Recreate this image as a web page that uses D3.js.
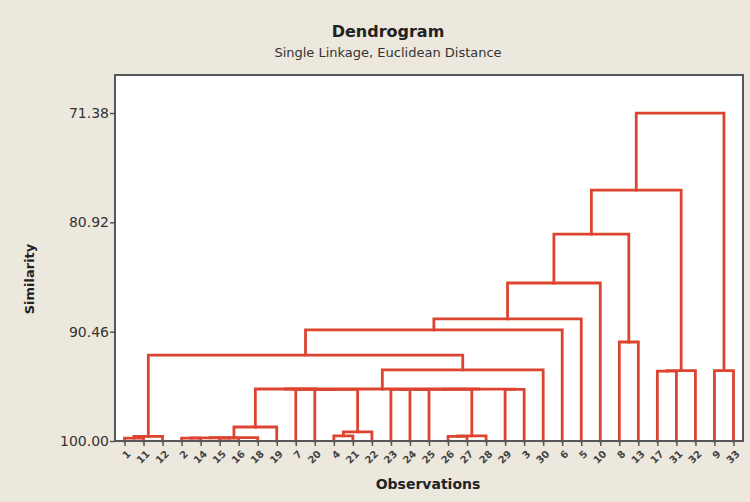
<!DOCTYPE html>
<html>
<head>
<meta charset="utf-8">
<script src="https://cdn.jsdelivr.net/npm/d3@7"></script>
<style>
  html, body { margin: 0; padding: 0; background: #ECE8DE; }
  svg { display: block; }
</style>
</head>
<body>
<svg id="chart" width="750" height="502"></svg>
<script>
// Leaf order along the x axis (observation numbers)
const observations = [1, 11, 12, 2, 14, 15, 16, 18, 19, 7, 20, 4, 21, 22, 23, 24, 25,
  26, 27, 28, 29, 3, 30, 6, 5, 10, 8, 13, 17, 31, 32, 9, 33];

// Amalgamation steps: positive = observation number, negative = -(earlier step number)
const mergeLeft  = [2, 15, 1, -1, -4, -3, 4, -7, 26, -9, -5, 20, 7, -11, 23, -15, -16, 29, -17, -14,
  -20, -6, -22, -23, -24, 8, -25, 17, -28, 9, -27, -31];
const mergeRight = [14, 16, 11, -2, 18, 12, 21, 22, 27, 28, 19, -8, -12, -13, 24, 25, -10, 3, -18, -19,
  30, -21, 6, 5, 10, 13, -26, 31, 32, 33, -29, -30];
const mergeSimilarity = [99.75, 99.75, 99.75, 99.72, 99.70, 99.60, 99.56, 99.20, 99.60, 99.55, 98.78,
  95.50, 95.50, 95.46, 95.50, 95.50, 95.50, 95.50, 95.48, 95.46,
  93.80, 92.50, 90.31, 89.35, 86.21, 91.36, 81.94, 93.90, 93.85, 93.85, 78.10, 71.38];

const yTicks = [100.00, 90.46, 80.92, 71.38];

const title = "Dendrogram";
const subtitle = "Single Linkage, Euclidean Distance";
const xTitle = "Observations";
const yTitle = "Similarity";

const svg = d3.select("#chart");
const plot = { left: 115, top: 75, right: 743, bottom: 441 };

const x = d3.scalePoint()
  .domain(observations)
  .range([plot.left, plot.right])
  .padding(0.5);

const y = d3.scaleLinear()
  .domain([100, 68.06])
  .range([plot.bottom, plot.top]);

// plot background
svg.append("rect")
  .attr("x", plot.left).attr("y", plot.top)
  .attr("width", plot.right - plot.left).attr("height", plot.bottom - plot.top)
  .attr("fill", "#ffffff");

// compute node positions
const nodes = [];
function pos(ref) {
  if (ref > 0) return { x: x(ref), y: y(100) };
  return nodes[-ref - 1];
}
const links = [];
mergeLeft.forEach((a, i) => {
  const A = pos(a), B = pos(mergeRight[i]);
  const ny = y(mergeSimilarity[i]);
  const nx = (A.x + B.x) / 2;
  nodes.push({ x: nx, y: ny });
  links.push({ A, B, ny });
});

svg.append("g")
  .selectAll("path")
  .data(links)
  .join("path")
  .attr("d", d => `M${d.A.x},${d.A.y}V${d.ny}H${d.B.x}V${d.B.y}`)
  .attr("fill", "none")
  .attr("stroke", "#DC4430")
  .attr("stroke-width", 2.8)
  .attr("stroke-linejoin", "miter")
  .attr("stroke-linecap", "square");

svg.append("rect")
  .attr("x", plot.left).attr("y", plot.top)
  .attr("width", plot.right - plot.left).attr("height", plot.bottom - plot.top)
  .attr("fill", "none")
  .attr("stroke", "#55575a")
  .attr("stroke-width", 2);

const font = "DejaVu Sans, Verdana, sans-serif";

// axes
const yAxis = svg.append("g")
  .attr("transform", `translate(${plot.left},0)`)
  .call(d3.axisLeft(y).tickValues(yTicks).tickFormat(d => d.toFixed(2)).tickSize(5).tickSizeOuter(0));
yAxis.select(".domain").remove();
yAxis.selectAll("line").attr("stroke", "#55575a").attr("stroke-width", 1.5);
yAxis.selectAll("text")
  .attr("font-family", font)
  .attr("font-size", 14)
  .attr("fill", "#333")
  .attr("x", -6);

const xAxis = svg.append("g")
  .attr("transform", `translate(0,${plot.bottom})`)
  .call(d3.axisBottom(x).tickSize(5).tickSizeOuter(0));
xAxis.select(".domain").remove();
xAxis.selectAll("line").attr("stroke", "#55575a").attr("stroke-width", 1.5);
xAxis.selectAll("text")
  .attr("font-family", font)
  .attr("font-size", 10)
  .attr("font-weight", "bold")
  .attr("fill", "#444")
  .attr("text-anchor", "end")
  .attr("y", 0)
  .attr("dy", "0.35em")
  .attr("transform", "translate(4,11) rotate(-45)");

// titles
svg.append("text")
  .attr("x", 388).attr("y", 37)
  .attr("text-anchor", "middle")
  .attr("font-family", font).attr("font-weight", "bold").attr("font-size", 16)
  .attr("fill", "#222")
  .text(title);
svg.append("text")
  .attr("x", 388).attr("y", 57)
  .attr("text-anchor", "middle")
  .attr("font-family", font).attr("font-size", 13)
  .attr("fill", "#333")
  .text(subtitle);
svg.append("text")
  .attr("x", 428).attr("y", 489)
  .attr("text-anchor", "middle")
  .attr("font-family", font).attr("font-weight", "bold").attr("font-size", 14)
  .attr("fill", "#222")
  .text(xTitle);
svg.append("text")
  .attr("transform", "translate(34,279) rotate(-90)")
  .attr("text-anchor", "middle")
  .attr("font-family", font).attr("font-weight", "bold").attr("font-size", 13)
  .attr("fill", "#222")
  .text(yTitle);
</script>
</body>
</html>
